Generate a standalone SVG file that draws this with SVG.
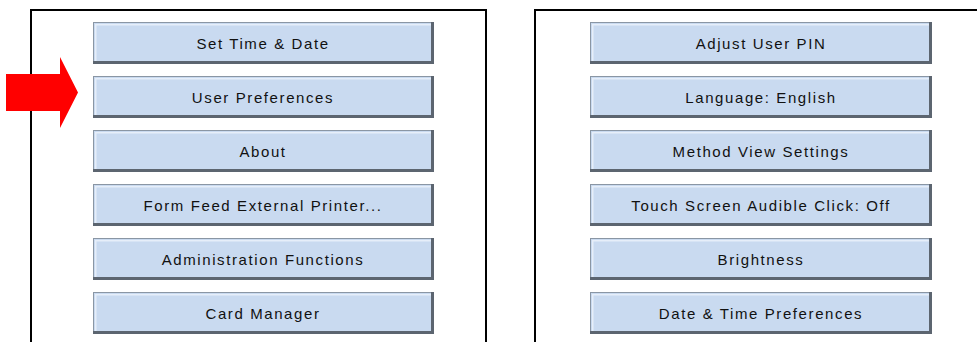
<svg xmlns="http://www.w3.org/2000/svg" width="977" height="342" viewBox="0 0 977 342">
  <style>
    .panel { fill: none; stroke: #000; stroke-width: 2; }
    .face { fill: #c9daf0; stroke: #8a96a4; stroke-width: 1; }
    .shade { fill: #5c6570; }
    .lite { fill: #e6eef9; }
    .label { font-family: "Liberation Sans", Arial, sans-serif; font-size: 15px; letter-spacing: 1.6px; fill: #111; text-anchor: middle; }
  </style>
  <defs>
    <!-- raised button: light top/left edge, dark bottom/right edge -->
    <g id="btn-left">
      <rect class="face" x="93.5" y="0.5" width="340" height="41"/>
      <rect class="lite" x="95" y="2" width="336" height="1.5"/>
      <rect class="lite" x="95" y="2" width="1.5" height="37"/>
      <rect class="shade" x="93" y="39" width="341" height="3"/>
      <rect class="shade" x="431" y="0" width="3" height="42"/>
    </g>
    <g id="btn-right">
      <rect class="face" x="590.5" y="0.5" width="341" height="41"/>
      <rect class="lite" x="592" y="2" width="337" height="1.5"/>
      <rect class="lite" x="592" y="2" width="1.5" height="37"/>
      <rect class="shade" x="590" y="39" width="342" height="3"/>
      <rect class="shade" x="929" y="0" width="3" height="42"/>
    </g>
  </defs>

  <rect width="977" height="342" fill="#fff"/>

  <!-- menu screens -->
  <g id="panel-left">
    <path class="panel" d="M31 342 V10 H486 V342"/>
  </g>
  <g id="panel-right">
    <path class="panel" d="M535 342 V10 H977"/>
  </g>

  <!-- left menu -->
  <g id="btn-set-time"><use href="#btn-left" y="22"/><text class="label" x="263" y="49">Set Time &amp; Date</text></g>
  <g id="btn-user-prefs"><use href="#btn-left" y="76"/><text class="label" x="263" y="103">User Preferences</text></g>
  <g id="btn-about"><use href="#btn-left" y="130"/><text class="label" x="263" y="157">About</text></g>
  <g id="btn-form-feed"><use href="#btn-left" y="184"/><text class="label" x="263" y="211">Form Feed External Printer...</text></g>
  <g id="btn-admin"><use href="#btn-left" y="238"/><text class="label" x="263" y="265">Administration Functions</text></g>
  <g id="btn-card-mgr"><use href="#btn-left" y="292"/><text class="label" x="263" y="319">Card Manager</text></g>

  <!-- right menu -->
  <g id="btn-adjust-pin"><use href="#btn-right" y="22"/><text class="label" x="761" y="49">Adjust User PIN</text></g>
  <g id="btn-language"><use href="#btn-right" y="76"/><text class="label" x="761" y="103">Language: English</text></g>
  <g id="btn-method-view"><use href="#btn-right" y="130"/><text class="label" x="761" y="157">Method View Settings</text></g>
  <g id="btn-audible-click"><use href="#btn-right" y="184"/><text class="label" x="761" y="211">Touch Screen Audible Click: Off</text></g>
  <g id="btn-brightness"><use href="#btn-right" y="238"/><text class="label" x="761" y="265">Brightness</text></g>
  <g id="btn-date-time-prefs"><use href="#btn-right" y="292"/><text class="label" x="761" y="319">Date &amp; Time Preferences</text></g>

  <!-- pointer arrow -->
  <g id="connectors">
    <polygon fill="#ff0000" points="6,74 60,74 60,57 78,92.5 60,128 60,111 6,111"/>
  </g>
</svg>
